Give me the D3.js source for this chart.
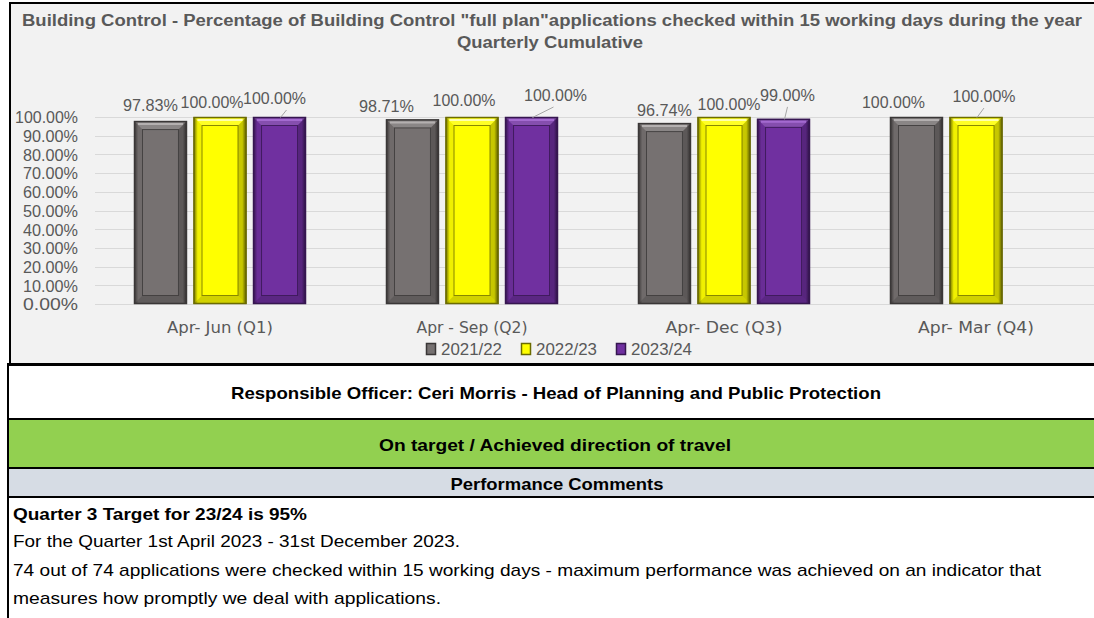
<!DOCTYPE html>
<html>
<head>
<meta charset="utf-8">
<script src="https://cdn.jsdelivr.net/npm/d3@7/dist/d3.min.js"></script>
<style>
  html, body { margin: 0; padding: 0; background: #fff; }
  svg { display: block; }
</style>
</head>
<body>
<div id="chart"></div>
<script>
// chart values
var categories = ["Apr- Jun  (Q1)", "Apr - Sep  (Q2)", "Apr- Dec  (Q3)", "Apr- Mar  (Q4)"];
var seriesNames = ["2021/22", "2022/23", "2023/24"];
var fy2122 = [0.9783, 0.9871, 0.9674, 1.0];
var fy2223 = [1.0, 1.0, 1.0, 1.0];
var fy2324 = [1.0, 1.0, 0.99, null];
var yTickValues = [0, 0.1, 0.2, 0.3, 0.4, 0.5, 0.6, 0.7, 0.8, 0.9, 1.0];

// label nudges [dx, dy] from bar centre / bar top (hand placed in the source)
var labelNudges = [
  [[-10, -10], [-26, -7], [0, -7], [-23, -9]],
  [[-8, -9], [-8, -11], [5, -7], [8, -15]],
  [[-5, -13], [24, -16], [4, -18], null]
];
var leaders = [
  { s: 2, c: 0, dx: 12 },
  { s: 2, c: 1, dx: -2 },
  { s: 2, c: 2, dx: 0 },
  { s: 1, c: 3, dx: 0 }
];

var titleLines = [
  "Building Control - Percentage of Building Control \"full plan\"applications checked within 15 working days during the year",
  "Quarterly Cumulative"
];

var styles = [
  { base: "#767171", dark: "#3a3737", light: "#b4b0b0" },
  { base: "#ffff00", dark: "#6b6b00", light: "#ffffb0" },
  { base: "#7030a0", dark: "#361650", light: "#a46ad0" }
];

var W = 1094, H = 618;
var svg = d3.select("#chart").append("svg")
    .attr("width", W)
    .attr("height", H);

var grads = svg.append("defs");

// chart box
svg.append("rect")
    .attr("x", 10).attr("y", 3)
    .attr("width", W).attr("height", 361)
    .style("fill", "#f2f2f2");
svg.append("line")
    .attr("x1", 9).attr("x2", W).attr("y1", 3).attr("y2", 3)
    .style("stroke", "#000").style("stroke-width", 2);
svg.append("line")
    .attr("x1", 10).attr("x2", 10).attr("y1", 2).attr("y2", 365)
    .style("stroke", "#000").style("stroke-width", 2);

// title
svg.append("text")
    .attr("x", 552).attr("y", 26)
    .attr("text-anchor", "middle")
    .attr("textLength", 1060)
    .attr("lengthAdjust", "spacingAndGlyphs")
    .style("font-family", "'Liberation Sans', Arial, sans-serif")
    .style("font-weight", "bold")
    .style("font-size", "16px")
    .style("fill", "#595959")
    .text(titleLines[0]);
svg.append("text")
    .attr("x", 550).attr("y", 48)
    .attr("text-anchor", "middle")
    .attr("textLength", 186)
    .attr("lengthAdjust", "spacingAndGlyphs")
    .style("font-family", "'Liberation Sans', Arial, sans-serif")
    .style("font-weight", "bold")
    .style("font-size", "16px")
    .style("fill", "#595959")
    .text(titleLines[1]);

// scales
var y = d3.scaleLinear().domain([0, 1]).range([304, 117]);
var x0 = d3.scaleBand().domain(categories).range([94, 1102]);
var x1 = d3.scaleBand().domain(seriesNames).range([40, 212]).paddingInner(0.11);

var plot = svg.append("g");

// grid
plot.selectAll(".grid")
    .data(yTickValues)
  .enter().append("line")
    .attr("class", "grid")
    .attr("x1", 95).attr("x2", W)
    .attr("y1", function(d) { return Math.round(y(d)) + 0.5; })
    .attr("y2", function(d) { return Math.round(y(d)) + 0.5; })
    .style("stroke", "#d9d9d9")
    .style("stroke-width", 1.2);

// y axis labels
var yAxis = d3.axisLeft(y)
    .tickValues(yTickValues)
    .tickFormat(d3.format(".2%"))
    .tickSize(0)
    .tickPadding(0);
var yg = plot.append("g")
    .attr("transform", "translate(78,0)")
    .call(yAxis);
yg.select(".domain").remove();
yg.selectAll("text")
    .attr("dy", "0.36em")
    .attr("textLength", function(d) { return d === 1 ? 63 : 55; })
    .attr("lengthAdjust", "spacingAndGlyphs")
    .style("font-family", "'Liberation Sans', Arial, sans-serif")
    .style("font-size", "16.2px")
    .style("fill", "#595959");

// category labels
var xAxis = d3.axisBottom(x0).tickSize(0).tickPadding(0);
var xg = plot.append("g")
    .attr("transform", "translate(0,320)")
    .call(xAxis);
xg.select(".domain").remove();
xg.selectAll("text")
    .attr("dy", "0.8em")
    .attr("textLength", function(d, i) { return [106, 111, 117, 116][i]; })
    .attr("lengthAdjust", "spacingAndGlyphs")
    .style("font-family", "'Liberation Sans Narrow', 'DejaVu Sans Condensed', sans-serif")
    .style("font-size", "16.5px")
    .style("fill", "#595959");

var seriesData = [fy2122, fy2223, fy2324].map(function(vals, s) {
  return vals.map(function(v, c) {
    return { s: s, c: c, name: seriesNames[s], cat: categories[c], value: v };
  }).filter(function(d) { return d.value !== null; });
});

function barX(d) { return x0(d.cat) + x1(d.name); }

// gradients for the bevel frame
styles.forEach(function(st, s) {
  var lg = grads.append("linearGradient")
      .attr("id", "face" + s)
      .attr("x1", 0).attr("x2", 1).attr("y1", 0).attr("y2", 0);
  lg.append("stop").attr("offset", "0%").attr("stop-color", st.dark);
  lg.append("stop").attr("offset", "8%").attr("stop-color", st.base);
  lg.append("stop").attr("offset", "92%").attr("stop-color", st.base);
  lg.append("stop").attr("offset", "100%").attr("stop-color", st.dark);
});

// bars with bevel
var bw = x1.bandwidth();
var bev = 8.5;
seriesData.forEach(function(rows, s) {
  var st = styles[s];
  var g = plot.append("g").attr("class", "series s" + s);
  var bar = g.selectAll(".bar")
      .data(rows)
    .enter().append("g")
      .attr("class", "bar")
      .attr("transform", function(d) { return "translate(" + barX(d) + "," + y(d.value) + ")"; });

  bar.append("rect")
      .attr("width", bw)
      .attr("height", function(d) { return y(0) - y(d.value); })
      .style("fill", "url(#face" + s + ")");

  // bevel faces
  function face(pts, fill, op) {
    bar.append("polygon")
        .attr("points", function(d) {
          var h = y(0) - y(d.value);
          return pts(h).map(function(p) { return p.join(","); }).join(" ");
        })
        .style("fill", fill)
        .style("fill-opacity", op);
  }
  face(function(h) { return [[0, 0], [bw, 0], [bw - bev, bev], [bev, bev]]; }, "#fff", 0.15);
  face(function(h) { return [[0, 0], [bev, bev], [bev, h - bev], [0, h]]; }, "#000", 0.06);
  face(function(h) { return [[bw, 0], [bw, h], [bw - bev, h - bev], [bw - bev, bev]]; }, "#000", 0.22);
  face(function(h) { return [[0, h], [bev, h - bev], [bw - bev, h - bev], [bw, h]]; }, "#000", 0.18);

  // highlight near top
  bar.append("line")
      .attr("x1", 4).attr("x2", bw - 4)
      .attr("y1", 3).attr("y2", 3)
      .style("stroke", st.light)
      .style("stroke-width", 2);

  // inner panel
  bar.append("rect")
      .attr("x", bev).attr("y", bev)
      .attr("width", bw - 2 * bev)
      .attr("height", function(d) { return y(0) - y(d.value) - 2 * bev; })
      .style("fill", st.base)
      .style("stroke", st.dark)
      .style("stroke-opacity", 0.8)
      .style("stroke-width", 1);

  // outer edge
  bar.append("rect")
      .attr("x", 0.5).attr("y", 0.5)
      .attr("width", bw - 1)
      .attr("height", function(d) { return y(0) - y(d.value) - 1; })
      .style("fill", "none")
      .style("stroke", st.dark)
      .style("stroke-width", 1.5);
});

// data labels
var fmt = d3.format(".2%");
function labelPos(d) {
  var n = labelNudges[d.s][d.c];
  return [barX(d) + bw / 2 + n[0], y(d.value) + n[1]];
}
var allRows = d3.merge(seriesData);
plot.selectAll(".dlabel")
    .data(allRows)
  .enter().append("text")
    .attr("class", "dlabel")
    .attr("x", function(d) { return labelPos(d)[0]; })
    .attr("y", function(d) { return labelPos(d)[1]; })
    .attr("text-anchor", "middle")
    .attr("textLength", function(d) { return d.value === 1 ? 63 : 55; })
    .attr("lengthAdjust", "spacingAndGlyphs")
    .style("font-family", "'Liberation Sans', Arial, sans-serif")
    .style("font-size", "16.2px")
    .style("fill", "#595959")
    .text(function(d) { return fmt(d.value); });

// leader lines
plot.selectAll(".leader")
    .data(leaders.map(function(l) {
      var d = allRows.filter(function(r) { return r.s === l.s && r.c === l.c; })[0];
      return { d: d, dx: l.dx };
    }))
  .enter().append("line")
    .attr("class", "leader")
    .attr("x1", function(l) { return labelPos(l.d)[0] + l.dx; })
    .attr("y1", function(l) { return labelPos(l.d)[1] + 6; })
    .attr("x2", function(l) { return barX(l.d) + bw / 2 + 1; })
    .attr("y2", function(l) { return y(l.d.value) + 0.5; })
    .style("stroke", "#a6a6a6")
    .style("stroke-width", 1);

// legend
var legendX = [426, 521, 616];
var legend = plot.selectAll(".legend")
    .data(seriesNames)
  .enter().append("g")
    .attr("class", "legend")
    .attr("transform", function(d, i) { return "translate(" + legendX[i] + ",343)"; });
legend.append("rect")
    .attr("x", 0.5).attr("y", 0.5)
    .attr("width", 9).attr("height", 11)
    .style("fill", function(d, i) { return styles[i].base; })
    .style("stroke", function(d, i) { return styles[i].dark; })
    .style("stroke-width", 1.5);
legend.append("text")
    .attr("x", 15).attr("y", 11.5)
    .attr("textLength", 61)
    .attr("lengthAdjust", "spacingAndGlyphs")
    .style("font-family", "'Liberation Sans', Arial, sans-serif")
    .style("font-size", "16.2px")
    .style("fill", "#595959")
    .text(function(d) { return d; });

// table below the chart
var rows = [
  { y: 366, h: 52, fill: "#ffffff" },
  { y: 419, h: 49, fill: "#92d050" },
  { y: 468, h: 29, fill: "#d6dce4" }
];
svg.selectAll(".trow")
    .data(rows)
  .enter().append("rect")
    .attr("class", "trow")
    .attr("x", 8).attr("y", function(d) { return d.y; })
    .attr("width", W).attr("height", function(d) { return d.h; })
    .style("fill", function(d) { return d.fill; });

[364.5, 419, 468, 497].forEach(function(yy, i) {
  svg.append("line")
      .attr("x1", 7).attr("x2", W)
      .attr("y1", yy).attr("y2", yy)
      .style("stroke", "#000")
      .style("stroke-width", i === 0 ? 3 : 2.2);
});
svg.append("line")
    .attr("x1", 8).attr("x2", 8).attr("y1", 365).attr("y2", H)
    .style("stroke", "#000").style("stroke-width", 2);

var tableFont = "'Liberation Sans', Arial, sans-serif";
var tableTexts = [
  { t: "Responsible Officer:  Ceri Morris - Head of Planning and Public Protection", x: 556, y: 399, len: 650, bold: true, anchor: "middle" },
  { t: "On target / Achieved direction of travel", x: 555, y: 451, len: 352, bold: true, anchor: "middle" },
  { t: "Performance Comments", x: 557, y: 490, len: 213, bold: true, anchor: "middle" },
  { t: "Quarter 3 Target for 23/24 is 95%", x: 13, y: 520, len: 294, bold: true, anchor: "start" },
  { t: "For the Quarter 1st April 2023 - 31st December 2023.", x: 13, y: 547, len: 447, bold: false, anchor: "start" },
  { t: "74 out of 74 applications were checked within 15 working days - maximum performance was achieved on an indicator that", x: 13, y: 576, len: 1028, bold: false, anchor: "start" },
  { t: "measures how promptly we deal with applications.", x: 13, y: 604, len: 428, bold: false, anchor: "start" }
];
svg.selectAll(".ttext")
    .data(tableTexts)
  .enter().append("text")
    .attr("class", "ttext")
    .attr("x", function(d) { return d.x; })
    .attr("y", function(d) { return d.y; })
    .attr("text-anchor", function(d) { return d.anchor; })
    .attr("textLength", function(d) { return d.len; })
    .attr("lengthAdjust", "spacingAndGlyphs")
    .style("font-family", tableFont)
    .style("font-size", "17px")
    .style("font-weight", function(d) { return d.bold ? "bold" : "normal"; })
    .style("fill", "#000")
    .text(function(d) { return d.t; });
</script>
</body>
</html>
